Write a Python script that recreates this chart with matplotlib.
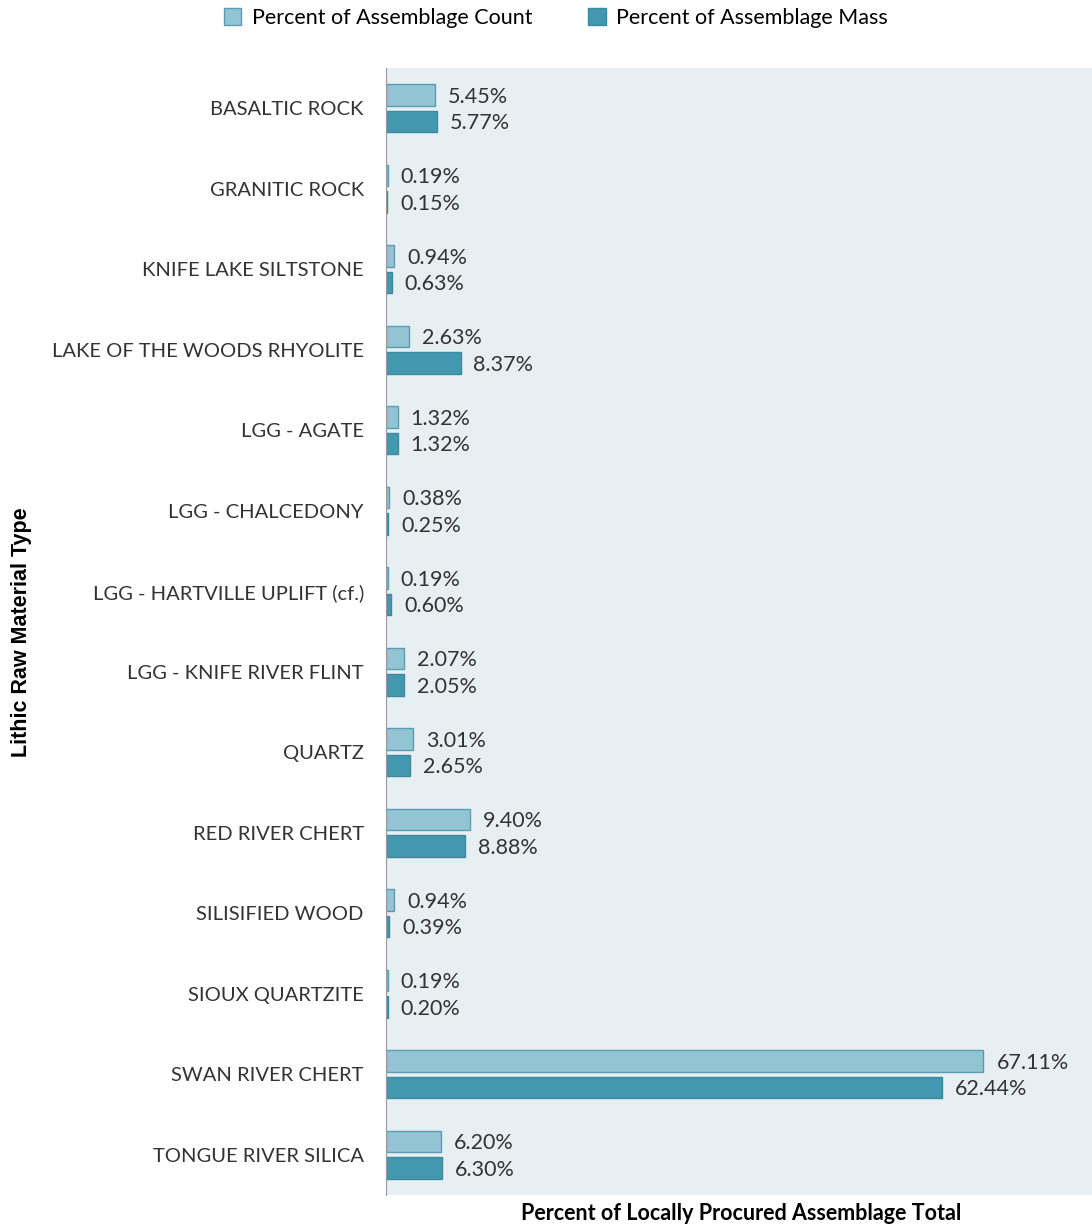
import numpy as np
import matplotlib
matplotlib.use('Agg')
from matplotlib import pyplot as plt

materials = ['BASALTIC ROCK', 'GRANITIC ROCK', 'KNIFE LAKE SILTSTONE',
             'LAKE OF THE WOODS RHYOLITE', 'LGG - AGATE', 'LGG - CHALCEDONY',
             'LGG - HARTVILLE UPLIFT (cf.)', 'LGG - KNIFE RIVER FLINT', 'QUARTZ',
             'RED RIVER CHERT', 'SILISIFIED WOOD', 'SIOUX QUARTZITE',
             'SWAN RIVER CHERT', 'TONGUE RIVER SILICA']
count_pct = [5.45, 0.19, 0.94, 2.63, 1.32, 0.38, 0.19, 2.07, 3.01, 9.40, 0.94, 0.19, 67.11, 6.20]
mass_pct = [5.77, 0.15, 0.63, 8.37, 1.32, 0.25, 0.60, 2.05, 2.65, 8.88, 0.39, 0.20, 62.44, 6.30]

plt.rcParams['font.family'] = ['Lato', 'DejaVu Sans']

fig = plt.figure(figsize=(10.92, 12.28), dpi=100)
ax = fig.add_axes([386 / 1092, 33 / 1228, 706 / 1092, 1127 / 1228])
ax.set_facecolor('#e8eff3')

y = np.arange(len(materials))
h = 0.27
off = 0.165
ax.barh(y - off, count_pct, height=h, color='#93c4d4', edgecolor='#5a9db3', linewidth=1,
        label='Percent of Assemblage Count')
ax.barh(y + off, mass_pct, height=h, color='#4397ae', edgecolor='#3a8aa0', linewidth=1,
        label='Percent of Assemblage Mass')

# etiquetas de valor al final de cada barra
for i in range(len(materials)):
    ax.text(count_pct[i] + 1.45, y[i] - off + 0.02, '%.2f%%' % count_pct[i], va='center',
            ha='left', fontsize=15.5, color='#333333')
    ax.text(mass_pct[i] + 1.45, y[i] + off + 0.02, '%.2f%%' % mass_pct[i], va='center',
            ha='left', fontsize=15.5, color='#333333')

ax.set_ylim(len(materials) - 0.5, -0.5)
ax.set_xlim(0, 79.3)
ax.set_yticks(y)
ax.set_yticklabels(materials, fontsize=14.5, color='#333333')
ax.set_xticks([])
ax.tick_params(axis='y', length=0, pad=16)
for s in ['top', 'right', 'bottom']:
    ax.spines[s].set_visible(False)
ax.spines['left'].set_color('#999999')

fig.text(741 / 1092, 1 - 1214 / 1228, 'Percent of Locally Procured Assemblage Total',
         ha='center', va='center', fontsize=15.5, fontweight='bold')
fig.text(22 / 1092, 1 - 632 / 1228, 'Lithic Raw Material Type', rotation=90, ha='center',
         va='center', fontsize=15.5, fontweight='bold', family='Liberation Sans')

fig.legend(loc='center', bbox_to_anchor=(556 / 1092, 1 - 18 / 1228), ncol=2, frameon=False,
           fontsize=15.5, handlelength=0.8, handleheight=0.8, columnspacing=2.6, handletextpad=0.5)

fig.savefig('out.png', dpi=100)
